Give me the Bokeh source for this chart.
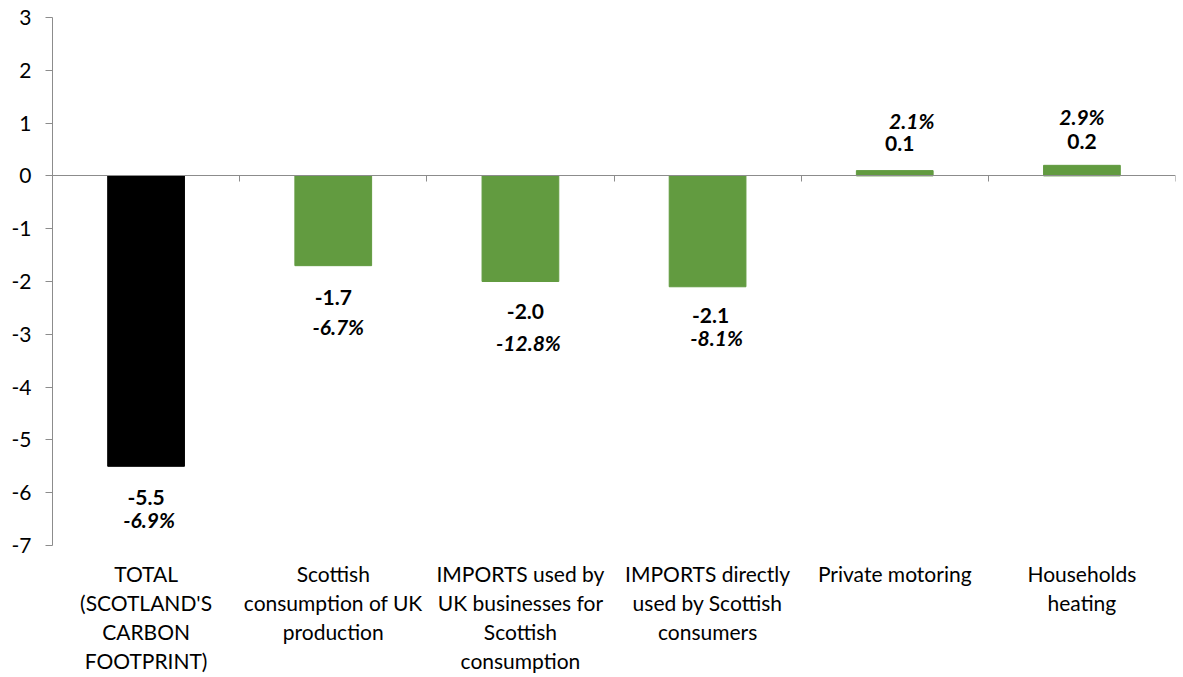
from bokeh.plotting import figure
from bokeh.models import Range1d, FixedTicker, LinearAxis, ColumnDataSource
from bokeh.core.properties import value
from bokeh.embed import file_html
from bokeh.resources import INLINE

# ---- data ----
categories = [
    "TOTAL\n(SCOTLAND'S\nCARBON\nFOOTPRINT)",
    "Scottish\nconsumption of UK\nproduction",
    "IMPORTS used by\nUK businesses for\nScottish\nconsumption",
    "IMPORTS directly\nused by Scottish\nconsumers",
    "Private motoring",
    "Households\nheating",
]
values = [-5.5, -1.7, -2.0, -2.1, 0.1, 0.2]
value_labels = ["-5.5", "-1.7", "-2.0", "-2.1", "0.1", "0.2"]
pct_labels = ["-6.9%", "-6.7%", "-12.8%", "-8.1%", "2.1%", "2.9%"]
y_ticks = [-7, -6, -5, -4, -3, -2, -1, 0, 1, 2, 3]
y_tick_labels = ["-7", "-6", "-5", "-4", "-3", "-2", "-1", "0", "1", "2", "3"]

# ---- layout / style ----
GREEN = "#629B40"
bar_colors = ["#000000"] + [GREEN] * 5
val_dx = [0, 0, 5, 3, 5, 0]
val_dy = [31, 32, 30, 29, -27, -24]
pct_dx = [3, 5, 8, 9, 17, 0]
pct_dy = [53, 61, 61, 51, -50, -49]
FONT = "Lato"
AXIS_GRAY = "#8C8C8C"

n = len(categories)
xs = [i + 0.5 for i in range(n)]

src = ColumnDataSource(dict(
    x=xs, top=values, color=bar_colors,
    vlab=value_labels, plab=pct_labels,
    vdx=val_dx, vdy=val_dy, pdx=pct_dx, pdy=pct_dy,
))

p = figure(frame_width=1123, frame_height=528, output_backend="svg", toolbar_location=None,
           x_range=Range1d(0, n), y_range=Range1d(y_ticks[0], y_ticks[-1]),
           min_border_left=52, min_border_right=8, min_border_top=17, min_border_bottom=0,
           x_axis_type=None)
p.outline_line_color = None
p.xgrid.visible = False
p.ygrid.visible = False

p.vbar(x="x", top="top", bottom=0, width=0.41, color="color", source=src)

# y axis
ya = p.yaxis[0]
ya.ticker = FixedTicker(ticks=y_ticks)
ya.major_label_overrides = {t: s for t, s in zip(y_ticks, y_tick_labels)}
ya.axis_line_color = AXIS_GRAY
ya.major_tick_line_color = AXIS_GRAY
ya.major_tick_out = 7
ya.major_tick_in = 0
ya.minor_tick_line_color = None
ya.major_label_text_font = FONT
ya.major_label_text_font_size = "21px"
ya.major_label_text_color = "#000000"
ya.major_label_standoff = 14

# category labels axis (bottom)
xa = LinearAxis(ticker=FixedTicker(ticks=xs),
                major_label_overrides={x: c for x, c in zip(xs, categories)})
xa.axis_line_color = None
xa.major_tick_line_color = None
xa.minor_tick_line_color = None
xa.major_tick_in = 0
xa.major_tick_out = 0
xa.major_label_text_font = FONT
xa.major_label_text_font_size = "21px"
xa.major_label_text_color = "#000000"
xa.major_label_text_line_height = 1.16
xa.major_label_standoff = 15
p.add_layout(xa, "below")

# zero axis with category boundary ticks
bounds = list(range(n + 1))
za = LinearAxis(ticker=FixedTicker(ticks=bounds), fixed_location=0,
                major_label_overrides={b: "" for b in bounds})
za.axis_line_color = AXIS_GRAY
za.major_tick_line_color = AXIS_GRAY
za.major_tick_in = 0
za.major_tick_out = 6
za.minor_tick_line_color = None
za.major_label_standoff = 0
p.add_layout(za, "below")

p.text(x="x", y="top", text="vlab", x_offset="vdx", y_offset="vdy", source=src,
       text_align="center", text_baseline="middle", text_font=value(FONT),
       text_font_size="21px", text_font_style="bold", text_color="#000000")
p.text(x="x", y="top", text="plab", x_offset="pdx", y_offset="pdy", source=src,
       text_align="center", text_baseline="middle", text_font=value(FONT),
       text_font_size="21px", text_font_style="bold italic", text_color="#000000")

open("out.html", "w").write(file_html(p, INLINE))
